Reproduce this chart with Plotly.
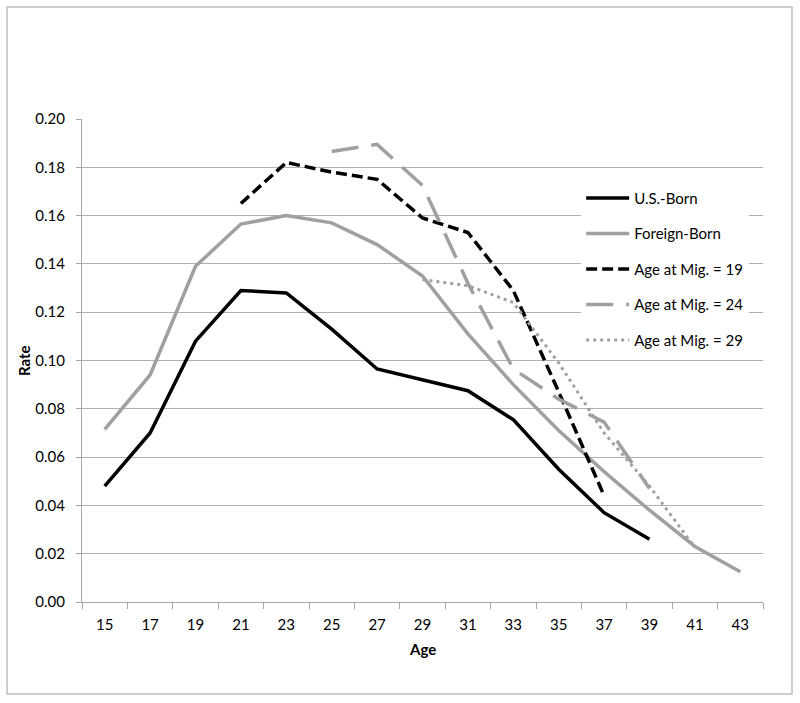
import plotly.graph_objects as go

# dados (taxa por idade)
idades = [15, 17, 19, 21, 23, 25, 27, 29, 31, 33, 35, 37, 39, 41, 43]

idades_us = [15, 17, 19, 21, 23, 25, 27, 29, 31, 33, 35, 37, 39]
taxa_us = [0.048, 0.070, 0.108, 0.129, 0.128, 0.113, 0.0965, 0.092, 0.0875, 0.0755, 0.055, 0.037, 0.026]

idades_fb = idades
taxa_fb = [0.0715, 0.094, 0.139, 0.1565, 0.160, 0.157, 0.148, 0.135, 0.111, 0.090, 0.071, 0.054, 0.038, 0.023, 0.0125]

idades_m19 = [21, 23, 25, 27, 29, 31, 33, 35, 37]
taxa_m19 = [0.165, 0.182, 0.178, 0.175, 0.159, 0.153, 0.129, 0.087, 0.044]

idades_m24 = [25, 27, 29, 31, 33, 35, 37, 39]
taxa_m24 = [0.1865, 0.1895, 0.1725, 0.132, 0.0965, 0.084, 0.0745, 0.047]

idades_m29 = [29, 31, 33, 35, 37, 39, 41]
taxa_m29 = [0.1335, 0.131, 0.124, 0.099, 0.070, 0.048, 0.0225]

PRETO = '#000000'
CINZA = '#A0A0A0'
FONTE = 'Lato, "Open Sans", sans-serif'

series = [
    ('U.S.-Born', idades_us, taxa_us, PRETO, 'solid', 3.5),
    ('Foreign-Born', idades_fb, taxa_fb, CINZA, 'solid', 3.5),
    ('Age at Mig. = 19', idades_m19, taxa_m19, PRETO, '11px,5px', 3.5),
    ('Age at Mig. = 24', idades_m24, taxa_m24, CINZA, '27px,13px', 3.5),
    ('Age at Mig. = 29', idades_m29, taxa_m29, CINZA, '3px,4px', 3),
]

fig = go.Figure()
for i, (nome, xs, ys, cor, traco, largura) in enumerate(series):
    fig.add_trace(go.Scatter(
        x=[str(a) for a in xs], y=ys, name=nome, mode='lines',
        legendgroup=f'g{i}',
        line=dict(color=cor, dash=traco, width=largura),
    ))

fig.update_layout(
    width=800, height=703,
    margin=dict(l=82, r=37, t=119, b=101),
    paper_bgcolor='white', plot_bgcolor='white',
    font=dict(family=FONTE, size=15, color='#000000'),
    showlegend=True,
    legend=dict(
        x=0.733, y=0.870, xanchor='left', yanchor='top',
        bgcolor='white', borderwidth=0,
        font=dict(family=FONTE, size=15),
        tracegroupgap=13, itemwidth=43,
    ),
    xaxis=dict(
        type='category', categoryorder='array',
        categoryarray=[str(a) for a in idades], range=[-0.5, 14.5],
        tickson='boundaries', ticks='outside', ticklen=6, tickcolor='#A6A6A6',
        ticklabelstandoff=9,
        showline=True, linecolor='#A6A6A6', linewidth=1,
        showgrid=False, zeroline=False, automargin=False,
    ),
    yaxis=dict(
        range=[0, 0.2], dtick=0.02, tickformat='.2f',
        ticks='outside', ticklen=5, tickcolor='#A6A6A6',
        ticklabelstandoff=8,
        showline=True, linecolor='#A6A6A6', linewidth=1,
        showgrid=True, gridcolor='#B0B0B0', gridwidth=1, zeroline=False,
        automargin=False,
    ),
    annotations=[
        dict(text='<b>Age</b>', xref='paper', yref='paper', x=0.5, y=-0.0973,
             xanchor='center', yanchor='middle', showarrow=False, font=dict(size=15)),
        dict(text='<b>Rate</b>', xref='paper', yref='paper', x=-0.0859, y=0.5,
             xanchor='center', yanchor='middle', textangle=-90, showarrow=False,
             font=dict(size=15)),
    ],
    shapes=[dict(
        type='rect', xref='paper', yref='paper',
        x0=-0.1101, x1=1.0426, y0=-0.1905, y1=1.2319,
        line=dict(color='#BEBEBE', width=1.5), fillcolor='rgba(0,0,0,0)',
        layer='below',
    )],
)

# tira a margem padrao do body para o grafico ficar alinhado ao canto
fig.write_html('out.html', config={'displayModeBar': False},
               post_script="document.body.style.margin='0';")
